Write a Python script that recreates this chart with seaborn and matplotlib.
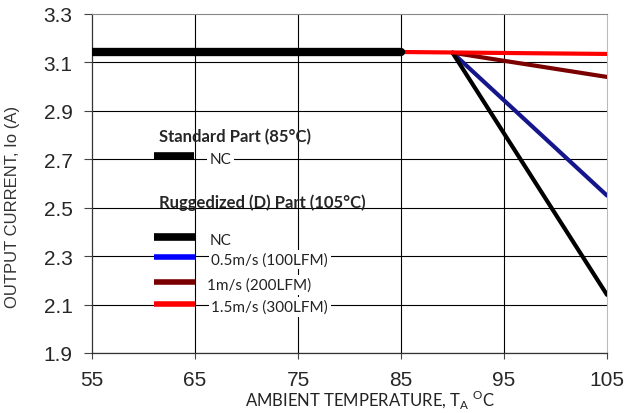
import pandas as pd
import matplotlib
matplotlib.use("Agg")
import matplotlib.pyplot as plt
import seaborn as sns

# Derating data
std_temp = [55, 85]
std_io = [3.143, 3.143]

rug_temp = [90, 105]
rug_nc = [3.14, 2.14]
rug_05 = [3.14, 2.55]
rug_1 = [3.14, 3.04]

rug15_temp = [85, 105]
rug15_io = [3.143, 3.135]

x_ticks = [55, 65, 75, 85, 95, 105]
y_ticks = [1.9, 2.1, 2.3, 2.5, 2.7, 2.9, 3.1, 3.3]

legend_labels = ["NC", "0.5m/s (100LFM)", "1m/s (200LFM)", "1.5m/s (300LFM)"]

sns.set_style("white")
plt.rcParams['font.family'] = ['Liberation Sans', 'DejaVu Sans']

fig = plt.figure(figsize=(6.42, 4.14), dpi=100)
ax = fig.add_axes([0.1433, 0.145, 0.8022, 0.8188])

grid_kw = dict(color='black', lw=0.8, zorder=0)
for y in y_ticks[:-1]:
    ax.axhline(y, **grid_kw)
for x in x_ticks[1:-1]:
    ax.axvline(x, **grid_kw)

df = pd.DataFrame({
    'temp': rug_temp * 3,
    'io': rug_05 + rug_1 + rug_nc,
    'series': ['0.5'] * 2 + ['1'] * 2 + ['NC'] * 2,
})
pal = {'0.5': '#16168c', '1': '#7a0000', 'NC': 'black'}
sns.lineplot(data=df, x='temp', y='io', hue='series', palette=pal,
             lw=3, legend=False, ax=ax, zorder=3)
sns.lineplot(x=rug15_temp, y=rug15_io, color='#ff0000', lw=3, ax=ax, zorder=4)
sns.lineplot(x=std_temp, y=std_io, color='black', lw=6, ax=ax, zorder=5)

ax.set_xlim(55, 105)
ax.set_ylim(1.9, 3.3)
ax.set_xticks(x_ticks)
ax.set_yticks(y_ticks)
ax.set_yticklabels([f"{v:.1f}" for v in y_ticks])
ax.tick_params(axis='both', labelsize=15, width=0.8, color='#444444',
               direction='out', bottom=True, left=True, pad=8)
ax.tick_params(axis='y', length=6)
ax.tick_params(axis='x', length=4)
for s in ['left', 'bottom']:
    ax.spines[s].set_color('#333333')
    ax.spines[s].set_linewidth(0.9)
ax.spines['top'].set_color('#888888')
ax.spines['right'].set_color('#bbbbbb')

ax.set_ylabel("OUTPUT CURRENT, Io (A)", fontsize=12, color='#333333', labelpad=10)
ax.yaxis.set_label_coords(-0.14, 0.433)
ax.set_xlabel(r"AMBIENT TEMPERATURE, T$_\mathregular{A}$ $^\mathregular{O}$C",
              fontsize=12, family=['Lato', 'DejaVu Sans'], color='#222222')
ax.xaxis.label.set_va('center')
ax.xaxis.set_label_coords(0.54, -0.138)

# Hand-drawn legend block
lg_font = ['Lato', 'DejaVu Sans']
ax.text(61.5, 2.795, "Standard Part (85°C)", fontsize=12, fontweight='bold',
        family=lg_font, va='center', ha='left', zorder=6)
ax.plot([61.0, 64.9], [2.715, 2.715], color='black', lw=5.5, solid_capstyle='butt', zorder=6)
ax.text(66.4, 2.703, "NC", fontsize=11, family=lg_font, va='center', ha='left', zorder=6,
        color='#222222', bbox=dict(facecolor='white', edgecolor='none', pad=2))
ax.text(61.5, 2.525, "Ruggedized (D) Part (105°C)", fontsize=12, fontweight='bold',
        family=lg_font, va='center', ha='left', zorder=6)

leg_y = [2.38, 2.298, 2.193, 2.103]
leg_cols = ['black', '#0000ff', '#7a0000', '#ff0000']
leg_w = [5.5, 4, 4, 4]
leg_tx = [66.4, 66.6, 66.2, 66.6]
for yy, c, w, lab, tx in zip(leg_y, leg_cols, leg_w, legend_labels, leg_tx):
    ax.plot([61.0, 65.0], [yy, yy], color=c, lw=w, solid_capstyle='butt', zorder=6)
    ax.text(tx, yy - 0.012, lab, fontsize=11, family=lg_font, va='center', ha='left',
            zorder=6, color='#222222',
            bbox=dict(facecolor='white', edgecolor='none', pad=2))

fig.savefig("out.png", dpi=100)
